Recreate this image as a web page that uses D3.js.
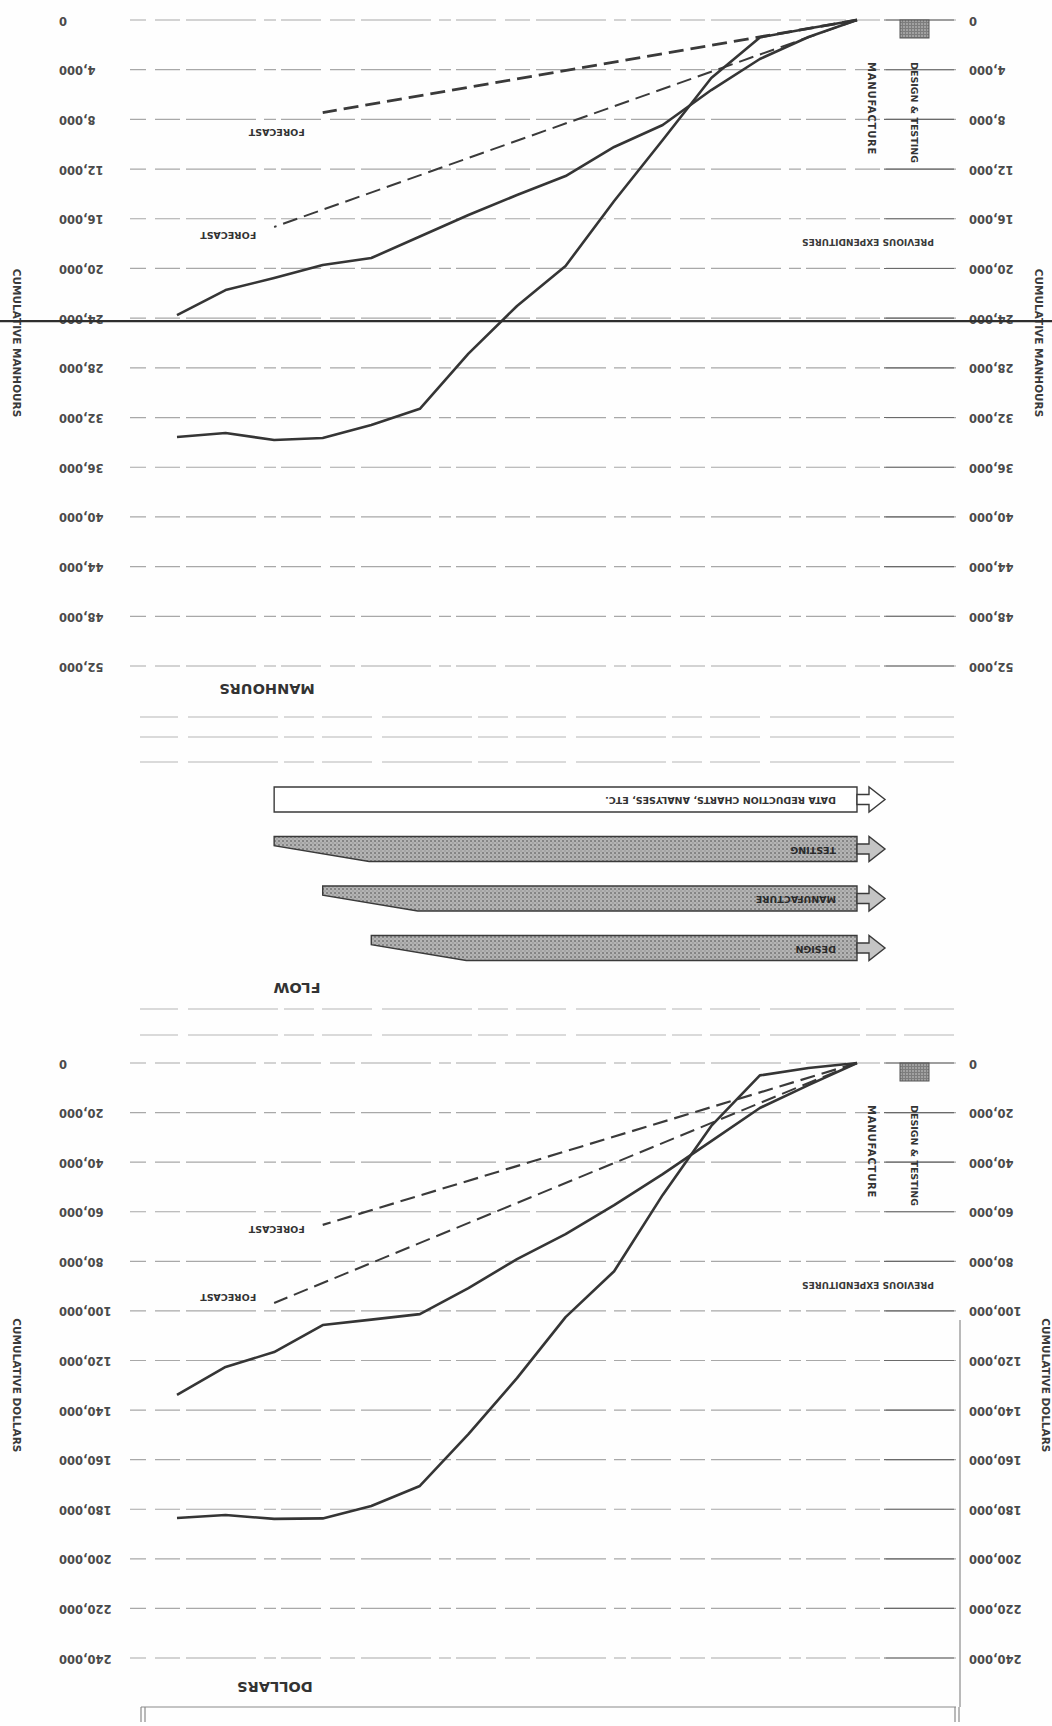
<!DOCTYPE html>
<html>
<head>
<meta charset="utf-8">
<script src="https://d3js.org/d3.v7.min.js"></script>
<style>
body { margin: 0; background: #fff; }
svg { display: block; font-family: "DejaVu Sans", Verdana, sans-serif; font-weight: bold; }
</style>
</head>
<body>
<script>
// time axis: months from the start of the program
const months = d3.range(0, 15);

const manhourTicks = d3.range(0, 52001, 4000);
const dollarTicks = d3.range(0, 240001, 20000);

// cumulative manhours
const manhoursSteep = [0, 680, 1400, 4670, 9660, 14570, 19800, 23020, 26850, 31300, 32600, 33650, 33810, 33250, 33570];
const manhoursGradual = [0, 1370, 3140, 5640, 8450, 10220, 12560, 14090, 15700, 17430, 19160, 19720, 20770, 21740, 23750];
const manhoursForecast1 = [[0, 0], [11, 7450]];
const manhoursForecast2 = [[0, 0], [12, 16660]];

// cumulative dollars
const dollarsSteep = [0, 2000, 5000, 25400, 53200, 84000, 102500, 127100, 149700, 170600, 178700, 183700, 183900, 182300, 183500];
const dollarsGradual = [0, 8900, 18150, 31500, 44800, 57300, 69000, 79100, 90800, 101300, 103500, 105700, 116600, 122600, 133900];
const dollarsForecast1 = [[0, 0], [11, 65300]];
const dollarsForecast2 = [[0, 0], [12, 96800]];

// flow of work (bars run from month 0 to the end month)
const flowNames = ["DATA REDUCTION CHARTS, ANALYSES, ETC.", "TESTING", "MANUFACTURE", "DESIGN"];
const flowEnds = [12, 12, 11, 10];
const flowShaded = [false, true, true, true];

var width = 1052,
	height = 1726;

var svg = d3.select("body").append("svg").attr("width", width).attr("height", height);

var defs = svg.append("defs");
var stipple = defs.append("pattern").attr("id", "stipple").attr("width", 4).attr("height", 4).attr("patternUnits", "userSpaceOnUse");
stipple.append("rect").attr("width", 4).attr("height", 4).attr("fill", "#b4b4b4");
stipple.append("circle").attr("cx", 1).attr("cy", 1).attr("r", 0.9).attr("fill", "#6e6e6e");
stipple.append("circle").attr("cx", 3).attr("cy", 3).attr("r", 0.7).attr("fill", "#8a8a8a");

var dark = defs.append("pattern").attr("id", "darkStipple").attr("width", 3).attr("height", 3).attr("patternUnits", "userSpaceOnUse");
dark.append("rect").attr("width", 3).attr("height", 3).attr("fill", "#7d7d7d");
dark.append("circle").attr("cx", 1).attr("cy", 1).attr("r", 0.8).attr("fill", "#d0d0d0");

svg.append("rect").attr("width", width).attr("height", height).attr("fill", "#fefefe");

// the sheet was scanned upside down: draw it upright, then turn it over
var page = svg.append("g").attr("transform", "rotate(180 " + width / 2 + " " + height / 2 + ")");

var x = d3.scaleLinear().domain([0, 14]).range([195, 875]);
var yMan = d3.scaleLinear().domain([0, 52000]).range([1706, 1060]);
var yDol = d3.scaleLinear().domain([0, 240000]).range([663, 68]);

var gridX = [96, 922];
var fmt = d3.format(",");

function drawChart(o) {
	var g = page.append("g");
	var y = o.y;

	// grid
	g.selectAll(".grid")
		.data(o.ticks)
		.enter()
		.append("line")
		.attr("x1", gridX[0])
		.attr("x2", gridX[1])
		.attr("y1", (d) => y(d))
		.attr("y2", (d) => y(d))
		.style("stroke", "#a8a8a8")
		.style("stroke-width", 1.2)
		.style("stroke-dasharray", "70 6 25 9 40 5 12 8");

	g.selectAll(".gridEnd")
		.data(o.ticks)
		.enter()
		.append("line")
		.attr("x1", gridX[0] + 2)
		.attr("x2", gridX[0] + 72)
		.attr("y1", (d) => y(d))
		.attr("y2", (d) => y(d))
		.style("stroke", "#6a6a6a")
		.style("stroke-width", 1.1);

	// tick labels on both sides
	[993, 83].forEach(function (lx) {
		g.selectAll(null)
			.data(o.ticks)
			.enter()
			.append("text")
			.attr("x", lx)
			.attr("y", (d) => y(d))
			.attr("text-anchor", "end")
			.attr("dominant-baseline", "middle")
			.style("font-size", "11.5px")
			.style("fill", "#4a4a4a")
			.text((d) => fmt(d));
	});

	// side titles
	[1036, o.rightTitleX].forEach(function (tx) {
		var ty = y(o.titleAt);
		g.append("text")
			.attr("transform", "translate(" + tx + "," + ty + ") rotate(-90)")
			.attr("text-anchor", "middle")
			.attr("dominant-baseline", "middle")
			.style("font-size", "10.5px")
			.style("fill", "#3a3a3a")
			.text(o.sideTitle);
	});

	// legend
	var y0 = y(0);
	g.append("rect")
		.attr("x", 123)
		.attr("y", y0 - 18)
		.attr("width", 29)
		.attr("height", 18)
		.attr("fill", "url(#darkStipple)")
		.style("stroke", "#555")
		.style("stroke-width", 1);
	g.append("text")
		.attr("transform", "translate(139," + (y0 - 42) + ") rotate(-90)")
		.attr("dominant-baseline", "middle")
		.style("font-size", "9.5px")
		.style("fill", "#333")
		.text("DESIGN & TESTING");
	g.append("text")
		.attr("transform", "translate(181," + (y0 - 42) + ") rotate(-90)")
		.attr("dominant-baseline", "middle")
		.style("font-size", "10px")
		.style("letter-spacing", "0.8px")
		.style("fill", "#333")
		.text("MANUFACTURE");
	g.append("text")
		.attr("x", 184)
		.attr("y", y0 - 221)
		.attr("text-anchor", "middle")
		.attr("dominant-baseline", "middle")
		.style("font-size", "9px")
		.style("fill", "#3a3a3a")
		.text("PREVIOUS EXPENDITURES");

	// main title
	g.append("text")
		.attr("x", o.titleX)
		.attr("y", o.titleY)
		.attr("text-anchor", "middle")
		.attr("dominant-baseline", "middle")
		.style("font-size", "14.5px")
		.style("fill", "#333")
		.text(o.title);

	var line = d3
		.line()
		.x((d) => x(d[0]))
		.y((d) => y(d[1]));

	// forecasts
	o.forecasts.forEach(function (f, i) {
		g.append("path")
			.attr("d", line(f))
			.style("fill", "none")
			.style("stroke", "#3a3a3a")
			.style("stroke-width", i === 0 ? o.dashWidth : 2)
			.style("stroke-dasharray", "15 7");
		var end = f[f.length - 1];
		g.append("text")
			.attr("x", x(end[0]) + 46)
			.attr("y", y(end[1]) + o.labelDy[i])
			.attr("text-anchor", "middle")
			.attr("dominant-baseline", "middle")
			.style("font-size", "9.5px")
			.style("fill", "#333")
			.text("FORECAST");
	});

	// actuals
	o.series.forEach(function (s) {
		g.append("path")
			.attr("d", line(d3.zip(months, s)))
			.style("fill", "none")
			.style("stroke", "#353535")
			.style("stroke-width", 2.6)
			.style("stroke-linejoin", "round");
	});
}

drawChart({
	y: yMan,
	ticks: manhourTicks,
	series: [manhoursSteep, manhoursGradual],
	forecasts: [manhoursForecast1, manhoursForecast2],
	labelDy: [-19, -8],
	dashWidth: 2.8,
	sideTitle: "CUMULATIVE MANHOURS",
	titleAt: 26000,
	rightTitleX: 14,
	title: "MANHOURS",
	titleX: 785,
	titleY: 1038,
});

drawChart({
	y: yDol,
	ticks: dollarTicks,
	series: [dollarsSteep, dollarsGradual],
	forecasts: [dollarsForecast1, dollarsForecast2],
	labelDy: [-4, 6],
	dashWidth: 2.2,
	sideTitle: "CUMULATIVE DOLLARS",
	titleAt: 130000,
	rightTitleX: 7,
	title: "DOLLARS",
	titleX: 777,
	titleY: 40,
});

// heavy rule across the sheet through the manhours chart
page.append("line")
	.attr("x1", 0)
	.attr("x2", width)
	.attr("y1", yMan(24000) - 3)
	.attr("y2", yMan(24000) - 3)
	.style("stroke", "#2e2e2e")
	.style("stroke-width", 2.4);

// faint form rules around the flow panel
page.selectAll(".rule")
	.data([1009, 989, 964, 717, 691])
	.enter()
	.append("line")
	.attr("x1", gridX[0] + 2)
	.attr("x2", gridX[1] - 10)
	.attr("y1", (d) => d)
	.attr("y2", (d) => d)
	.style("stroke", "#b5b5b5")
	.style("stroke-width", 1.1)
	.style("stroke-dasharray", "50 8 30 6 90 10");

// frame at the foot of the dollars chart
var frame = page.append("g").style("stroke", "#8a8a8a").style("stroke-width", 1.2);
frame.append("line").attr("x1", gridX[0]).attr("x2", 911).attr("y1", 19).attr("y2", 19);
frame.append("line").attr("x1", 92).attr("x2", 92).attr("y1", 19).attr("y2", 406);
[93, 97, 907, 911].forEach(function (tx) {
	frame.append("line").attr("x1", tx).attr("x2", tx).attr("y1", 4).attr("y2", 19);
});

// flow panel
var flowY = d3.scalePoint().domain(flowNames).range([926.5, 778]);
var barH = 25;
var flow = page.append("g");

page.append("text")
	.attr("x", 755)
	.attr("y", 739)
	.attr("text-anchor", "middle")
	.attr("dominant-baseline", "middle")
	.style("font-size", "14.5px")
	.style("fill", "#333")
	.text("FLOW");

flowNames.forEach(function (name, i) {
	var a = x(0),
		b = x(flowEnds[i]),
		yc = flowY(name),
		top = yc - barH / 2,
		bot = yc + barH / 2;
	var shape;
	if (flowShaded[i]) {
		shape = [
			[a, top],
			[b - 95, top],
			[b, bot - 0.37 * barH],
			[b, bot],
			[a, bot],
		];
	} else {
		shape = [
			[a, top],
			[b, top],
			[b, bot],
			[a, bot],
		];
	}
	flow.append("path")
		.attr("d", "M" + shape.join("L") + "Z")
		.attr("fill", flowShaded[i] ? "url(#stipple)" : "#fff")
		.style("stroke", "#3a3a3a")
		.style("stroke-width", 1.4);

	var arrow = [
		[a, yc - 0.2 * barH],
		[a - 12, yc - 0.2 * barH],
		[a - 12, yc - 0.5 * barH],
		[a - 28, yc],
		[a - 12, yc + 0.5 * barH],
		[a - 12, yc + 0.2 * barH],
		[a, yc + 0.2 * barH],
	];
	flow.append("path")
		.attr("d", "M" + arrow.join("L") + "Z")
		.attr("fill", flowShaded[i] ? "#c4c4c4" : "#fff")
		.style("stroke", "#3a3a3a")
		.style("stroke-width", 1.4);

	flow.append("text")
		.attr("x", a + 21)
		.attr("y", yc)
		.attr("dominant-baseline", "middle")
		.style("font-size", "9.5px")
		.style("fill", flowShaded[i] ? "#2a2a2a" : "#333")
		.text(name);
});
</script>
</body>
</html>
